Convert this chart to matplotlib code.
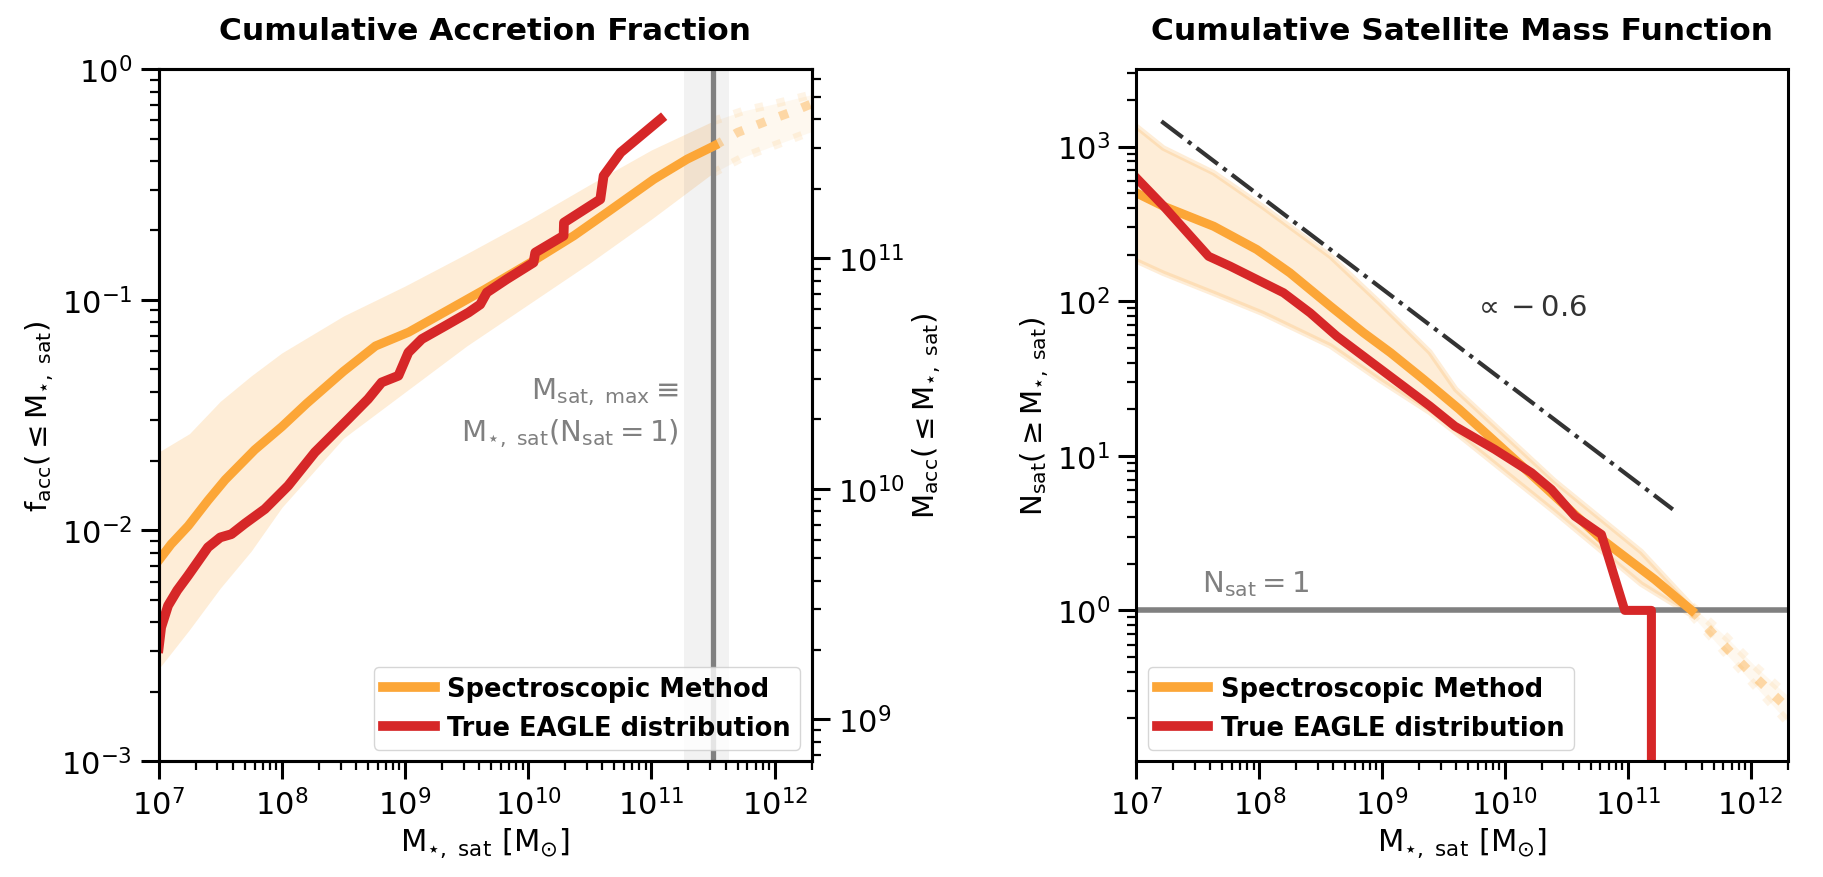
import matplotlib
matplotlib.use('Agg')
import matplotlib.pyplot as plt
import numpy as np

# ---- data (log10 values) ----
# left: cumulative accretion fraction
spec_lx = [7.0, 7.10, 7.24, 7.40, 7.54, 7.78, 8.0, 8.2, 8.5, 8.76, 9.03, 9.33, 9.65,
           10.02, 10.37, 10.64, 11.02, 11.29, 11.51]
spec_lf = [-2.13, -2.06, -1.98, -1.87, -1.78, -1.65, -1.55, -1.45, -1.31, -1.20, -1.14,
           -1.05, -0.954, -0.838, -0.722, -0.621, -0.477, -0.39, -0.332]
spec_ext_lx = [11.51, 11.70, 11.94, 12.16, 12.30]
spec_ext_lf = [-0.332, -0.274, -0.224, -0.181, -0.15]

band_lx = [7.0, 7.25, 7.5, 7.75, 8.0, 8.5, 9.0, 9.5, 10.0, 10.5, 11.0, 11.5]
band_hi = [-1.66, -1.58, -1.44, -1.33, -1.23, -1.07, -0.94, -0.80, -0.655, -0.50, -0.35, -0.225]
band_lo = [-2.60, -2.43, -2.25, -2.09, -1.90, -1.60, -1.40, -1.20, -1.02, -0.84, -0.65, -0.45]
band_ext_lx = [11.5, 11.75, 12.0, 12.3]
band_ext_hi = [-0.225, -0.18, -0.15, -0.11]
band_ext_lo = [-0.45, -0.38, -0.33, -0.27]

eagle_lx = [7.0, 7.02, 7.076, 7.15, 7.238, 7.40, 7.50, 7.59, 7.70, 7.862, 8.051, 8.268,
            8.539, 8.70, 8.81, 8.946, 9.027, 9.136, 9.325, 9.515, 9.61, 9.664, 9.827,
            10.043, 10.057, 10.287, 10.290, 10.585, 10.612, 10.75, 11.073]
eagle_lf = [-2.51, -2.42, -2.326, -2.26, -2.196, -2.073, -2.03, -2.016, -1.97, -1.907,
            -1.806, -1.661, -1.517, -1.43, -1.358, -1.329, -1.228, -1.170, -1.113,
            -1.055, -1.02, -0.968, -0.91, -0.838, -0.795, -0.722, -0.665, -0.564,
            -0.462, -0.361, -0.217]

m_sat_max = 3.16e11
m_sat_lo, m_sat_hi = 1.83e11, 4.27e11
m_acc_total = 6.6e11

# right: cumulative satellite mass function
smf_lx = [7.0, 7.22, 7.63, 7.98, 8.25, 8.58, 8.85, 9.07, 9.34, 9.63, 10.14, 10.79, 11.22, 11.52]
smf_ln = [2.70, 2.614, 2.484, 2.334, 2.183, 1.967, 1.795, 1.666, 1.493, 1.30, 0.933, 0.459, 0.2, 0.0]
smf_ext_lx = [11.52, 11.71, 12.0, 12.3]
smf_ext_ln = [0.0, -0.166, -0.403, -0.63]

sband_lx = [7.0, 7.22, 7.63, 8.03, 8.58, 8.98, 9.39, 9.6, 10.4, 11.11, 11.52]
sband_hi = [3.13, 2.99, 2.83, 2.61, 2.29, 1.99, 1.67, 1.43, 0.84, 0.38, 0.03]
sband_lo = [2.26, 2.18, 2.05, 1.92, 1.71, 1.49, 1.28, 1.15, 0.64, 0.17, -0.03]
sband_ext_lx = [11.52, 11.8, 12.05, 12.3]
sband_ext_hi = [0.03, -0.17, -0.37, -0.55]
sband_ext_lo = [-0.03, -0.28, -0.50, -0.72]

eagle_smf_lx = [7.0, 7.222, 7.588, 7.764, 8.198, 8.415, 8.632, 8.957, 9.39, 9.593, 9.918,
                10.217, 10.379, 10.569, 10.786, 10.976, 11.193, 11.193]
eagle_smf_ln = [2.797, 2.614, 2.29, 2.226, 2.054, 1.924, 1.773, 1.579, 1.321, 1.191, 1.041,
                0.89, 0.782, 0.61, 0.491, 0.0, 0.0, -3.0]

slope_x = [1.6e7, 2.33e11]
slope_n = [1456, 4.5]

# ---- style ----
orange = '#fca637'
red = '#d62728'
plt.rcParams['font.family'] = ['DejaVu Sans']
plt.rcParams['mathtext.fontset'] = 'dejavusans'
plt.rcParams['axes.linewidth'] = 2.2

fs = 22
p = lambda v: 10 ** np.array(v)

fig = plt.figure(figsize=(18.24, 8.78), dpi=100)
ax1 = fig.add_axes([0.087, 0.132, 0.358, 0.788])
ax3 = fig.add_axes([0.623, 0.132, 0.357, 0.788])


def style(ax):
    ax.tick_params(which='major', direction='out', length=13, width=2.2, labelsize=fs, pad=6)
    ax.tick_params(which='minor', direction='out', length=6.5, width=1.6)


# Chart 1
ax1.fill_between(p(band_lx), p(band_lo), p(band_hi), color=orange, alpha=0.2, lw=0)
ax1.fill_between(p(band_ext_lx), p(band_ext_lo), p(band_ext_hi), color=orange, alpha=0.08, lw=0)
ax1.plot(p(band_ext_lx), p(band_ext_hi), color=orange, alpha=0.12, lw=6, ls=':')
ax1.plot(p(band_ext_lx), p(band_ext_lo), color=orange, alpha=0.12, lw=6, ls=':')
ax1.axvspan(m_sat_lo, m_sat_hi, color='gray', alpha=0.1, lw=0)
ax1.axvline(m_sat_max, color='gray', lw=3.8)
ax1.plot(p(spec_lx), p(spec_lf), color=orange, lw=6.5, label='Spectroscopic Method')
ax1.plot(p(spec_ext_lx), p(spec_ext_lf), color=orange, lw=6.5, ls=':', alpha=0.4)
ax1.plot(p(eagle_lx), p(eagle_lf), color=red, lw=7, label='True EAGLE distribution')
ax1.text(1.66e11, 4.0e-2, r'$\rm M_{sat,\ max} \equiv$', color='gray', fontsize=21,
         ha='right', va='center')
ax1.text(1.66e11, 2.65e-2, r'$\rm M_{\star,\ sat}(N_{sat} = 1)$', color='gray', fontsize=21,
         ha='right', va='center')
ax1.set_xscale('log')
ax1.set_yscale('log')
ax1.set_xlim(1e7, 2e12)
ax1.set_ylim(1e-3, 1)
ax1.set_xlabel(r'$\rm M_{\star,\ sat}\ [M_{\odot}]$', fontsize=fs)
ax1.set_ylabel(r'$\rm f_{acc}(\leq M_{\star,\ sat})$', fontsize=21)
ax1.set_title('Cumulative Accretion Fraction', fontsize=22.5, fontweight='bold', pad=22)
style(ax1)
leg = ax1.legend(loc='lower right', prop={'weight': 'bold', 'size': 18.5}, handlelength=2.0,
                 borderpad=0.35, handletextpad=0.5, borderaxespad=0.45)
for ln in leg.get_lines():
    ln.set_linewidth(7)

ax2 = ax1.twinx()
ax2.set_yscale('log')
ax2.set_ylim(1e-3 * m_acc_total, m_acc_total)
ax2.set_ylabel(r'$\rm M_{acc}(\leq M_{\star,\ sat})$', fontsize=21)
style(ax2)

# Chart 2
ax3.fill_between(p(sband_lx), p(sband_lo), p(sband_hi), color=orange, alpha=0.2, lw=0)
ax3.plot(p(sband_lx), p(sband_hi), color=orange, alpha=0.2, lw=4)
ax3.plot(p(sband_lx), p(sband_lo), color=orange, alpha=0.2, lw=4)
ax3.fill_between(p(sband_ext_lx), p(sband_ext_lo), p(sband_ext_hi), color=orange, alpha=0.08, lw=0)
ax3.plot(p(sband_ext_lx), p(sband_ext_hi), color=orange, alpha=0.12, lw=6, ls=':')
ax3.plot(p(sband_ext_lx), p(sband_ext_lo), color=orange, alpha=0.12, lw=6, ls=':')
ax3.axhline(1, color='gray', lw=4)
ax3.plot(slope_x, slope_n, color='#333333', lw=3, ls='-.')
ax3.plot(p(smf_lx), p(smf_ln), color=orange, lw=6.5, label='Spectroscopic Method')
ax3.plot(p(smf_ext_lx), p(smf_ext_ln), color=orange, lw=6.5, ls=':', alpha=0.4)
ax3.plot(p(eagle_smf_lx), p(eagle_smf_ln), color=red, lw=6.5, label='True EAGLE distribution')
ax3.text(1.6e10, 91, r'$\propto -0.6$', color='#333333', fontsize=21, ha='center', va='center')
ax3.text(3.4e7, 1.2, r'$\rm N_{sat} = 1$', color='gray', fontsize=21, ha='left', va='bottom')
ax3.set_xscale('log')
ax3.set_yscale('log')
ax3.set_xlim(1e7, 2e12)
ax3.set_ylim(0.106, 3.16e3)
ax3.set_xlabel(r'$\rm M_{\star,\ sat}\ [M_{\odot}]$', fontsize=fs)
ax3.set_ylabel(r'$\rm N_{sat}(\geq M_{\star,\ sat})$', fontsize=21)
ax3.set_title('Cumulative Satellite Mass Function', fontsize=22.5, fontweight='bold', pad=22)
style(ax3)
leg = ax3.legend(loc='lower left', prop={'weight': 'bold', 'size': 18.5}, handlelength=2.0,
                 borderpad=0.35, handletextpad=0.5, borderaxespad=0.45)
for ln in leg.get_lines():
    ln.set_linewidth(7)

fig.savefig('out.png', dpi=100)
